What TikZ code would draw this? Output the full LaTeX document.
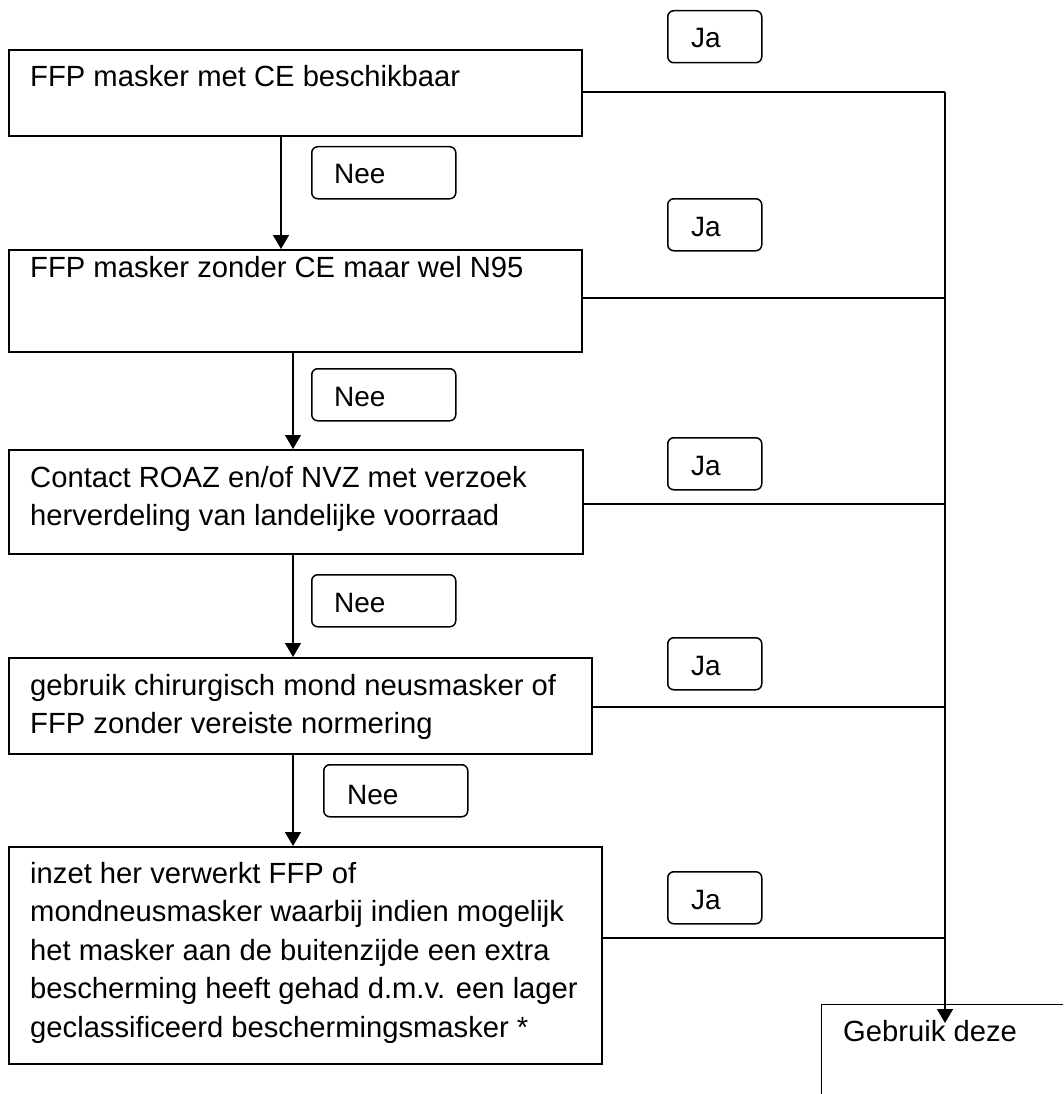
\documentclass[tikz,border=0pt]{standalone}
\usepackage{fontspec}
\setmainfont{Liberation Sans}
\usetikzlibrary{arrows.meta,calc}
\begin{document}
\begin{tikzpicture}[x=1pt,y=-1pt,
  stepbox/.style={draw,line width=1.7pt,rectangle,inner sep=0pt,anchor=north west},
  txt/.style={anchor=base west,inner sep=0pt,align=left,font=\fontsize{29.2pt}{38.5pt}\selectfont},
  tag/.style={draw,line width=1.5pt,rounded corners=6pt,inner sep=0pt,anchor=north west,minimum height=52pt},
  tagtxt/.style={anchor=base west,inner sep=0pt,font=\fontsize{28pt}{33pt}\selectfont},
  conn/.style={line width=1.5pt},
  arr/.style={line width=1.5pt,-{Triangle[length=14pt,width=16pt]}}]
\useasboundingbox (0,0) rectangle (1063,1094);
\clip (0,0) rectangle (1063,1094);

% main boxes (text nodes are anchored at the baseline of their last line)
\node[stepbox,minimum width=573pt,minimum height=86pt] (b1) at (8,49) {};
\node[txt] (b1t) at ($(b1.north west)+(22,38)$) {FFP masker met CE beschikbaar};

\node[stepbox,minimum width=573pt,minimum height=102pt] (b2) at (8,249) {};
\node[txt] (b2t) at ($(b2.north west)+(22,28)$) {FFP masker zonder CE maar wel N95};

\node[stepbox,minimum width=574pt,minimum height=104pt] (b3) at (8,449) {};
\node[txt] (b3t) at ($(b3.north west)+(22,76.5)$) {Contact ROAZ en/of NVZ met verzoek\\herverdeling van landelijke voorraad};

\node[stepbox,minimum width=583pt,minimum height=96pt] (b4) at (8,657) {};
\node[txt] (b4t) at ($(b4.north west)+(22,76.5)$) {gebruik chirurgisch mond neusmasker of\\FFP zonder vereiste normering};

\node[stepbox,minimum width=593pt,minimum height=217pt] (b5) at (8,846) {};
\node[txt] (b5t) at ($(b5.north west)+(22,191)$) {inzet her verwerkt FFP of\\mondneusmasker waarbij indien mogelijk\\het masker aan de buitenzijde een extra\\bescherming heeft gehad d.m.v. een lager\\geclassificeerd beschermingsmasker *};

\node[stepbox,line width=1.3pt,minimum width=300pt,minimum height=200pt] (use) at (821,1004) {};
\node[txt] (uset) at ($(use.north west)+(22,37)$) {Gebruik deze};

% Ja labels
\foreach \n/\y in {1/10,2/198,3/437,4/637,5/871}{
  \node[tag,minimum width=94pt] (ja\n) at (667,\y) {};
  \node[tagtxt] (ja\n t) at ($(ja\n.north west)+(24,38)$) {Ja};
}

% Nee labels
\node[tag,minimum width=144pt] (nee1) at (311,146) {};
\node[tagtxt] (nee1t) at ($(nee1.north west)+(23,38)$) {Nee};
\node[tag,minimum width=144pt] (nee2) at (311,368) {};
\node[tagtxt] (nee2t) at ($(nee2.north west)+(23,38)$) {Nee};
\node[tag,minimum width=144pt] (nee3) at (311,574) {};
\node[tagtxt] (nee3t) at ($(nee3.north west)+(23,38)$) {Nee};
\node[tag,minimum width=144pt] (nee4) at (323,764) {};
\node[tagtxt] (nee4t) at ($(nee4.north west)+(24,40)$) {Nee};

% trunk on the right
\coordinate (j1) at (945,92);
\coordinate (j2) at (945,298);
\coordinate (j3) at (945,504);
\coordinate (j4) at (945,707);
\coordinate (j5) at (945,938);
\coordinate (tip) at (945,1023);

\draw[conn] (b1.east |- j1) -- (j1);
\draw[conn] (b2.east |- j2) -- (j2);
\draw[conn] (b3.east |- j3) -- (j3);
\draw[conn] (b4.east |- j4) -- (j4);
\draw[conn] (b5.east |- j5) -- (j5);
\draw[arr] (j1) -- (tip);

% Nee arrows down
\draw[arr] ($(b1.south west)+(273,0)$) coordinate (d1) -- (d1 |- b2.north);
\draw[arr] ($(b2.south west)+(285,0)$) coordinate (d2) -- (d2 |- b3.north);
\draw[arr] ($(b3.south west)+(285,0)$) coordinate (d3) -- (d3 |- b4.north);
\draw[arr] ($(b4.south west)+(285,0)$) coordinate (d4) -- (d4 |- b5.north);
\end{tikzpicture}
\end{document}
